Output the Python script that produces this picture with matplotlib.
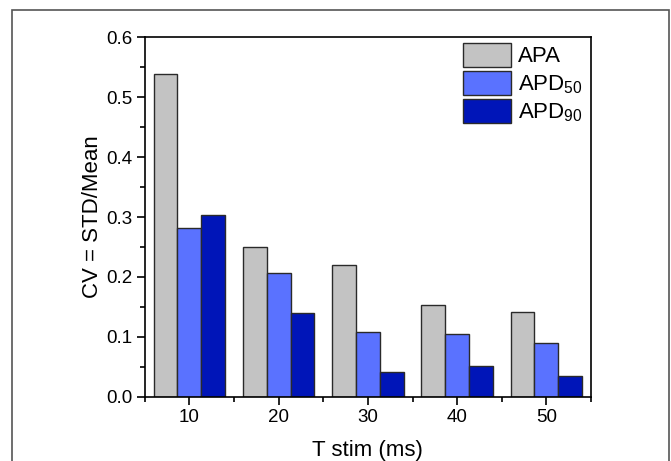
import matplotlib
matplotlib.use('Agg')
from matplotlib import pyplot as plt
from matplotlib.patches import Rectangle
from matplotlib.ticker import MultipleLocator
import numpy as np

# data
t_stim = [10, 20, 30, 40, 50]
apa = [0.539, 0.250, 0.220, 0.153, 0.142]
apd50 = [0.282, 0.207, 0.108, 0.104, 0.089]
apd90 = [0.304, 0.140, 0.042, 0.051, 0.034]
series_names = ['APA', 'APD$_{50}$', 'APD$_{90}$']

plt.rcParams['font.family'] = ['Liberation Sans', 'DejaVu Sans']
plt.rcParams['mathtext.fontset'] = 'custom'
plt.rcParams['mathtext.rm'] = 'Liberation Sans'
plt.rcParams['mathtext.it'] = 'Liberation Sans'

fig = plt.figure(figsize=(6.71, 4.61), dpi=100)
ax = fig.add_axes([0.2157, 0.1395, 0.8808 - 0.2157, 0.919 - 0.1395])

x = np.array(t_stim, dtype=float)
w = 2.67
colors = ['#c3c3c3', '#5a72ff', '#0015b8']
for i, (vals, col, name) in enumerate(zip([apa, apd50, apd90], colors, series_names)):
    ax.bar(x + (i - 1) * w, vals, width=w, color=col, edgecolor='#2a2a2a',
           linewidth=1.0, label=name)

ax.set_xlim(5, 55)
ax.set_ylim(0, 0.6)
ax.set_xticks(t_stim)
ax.xaxis.set_minor_locator(MultipleLocator(5))
ax.yaxis.set_major_locator(MultipleLocator(0.1))
ax.yaxis.set_minor_locator(MultipleLocator(0.05))
ax.yaxis.set_major_formatter(matplotlib.ticker.FormatStrFormatter('%.1f'))

ax.tick_params(which='both', direction='out', top=False, right=False, width=1.2)
ax.tick_params(which='major', length=6, labelsize=13.5, pad=3)
ax.tick_params(which='minor', length=3.5)
for s in ax.spines.values():
    s.set_linewidth(1.2)

ax.set_xlabel('T stim (ms)', fontsize=16, labelpad=10)
ax.set_ylabel('CV = STD/Mean', fontsize=16, labelpad=2)

ax.legend(loc='upper left', bbox_to_anchor=(0.714, 0.985), frameon=False,
          fontsize=16, handlelength=2.15, handleheight=1.3, handletextpad=0.3,
          labelspacing=0.15, borderpad=0, borderaxespad=0)

# outer frame around the figure
fig.patches.append(Rectangle((11.5 / 671, -0.05), (669 - 11.5) / 671, 1.05 - 10.5 / 461,
                             transform=fig.transFigure, fill=False,
                             edgecolor='#555555', linewidth=1.2, clip_on=False))

fig.savefig('out.png', dpi=100)
